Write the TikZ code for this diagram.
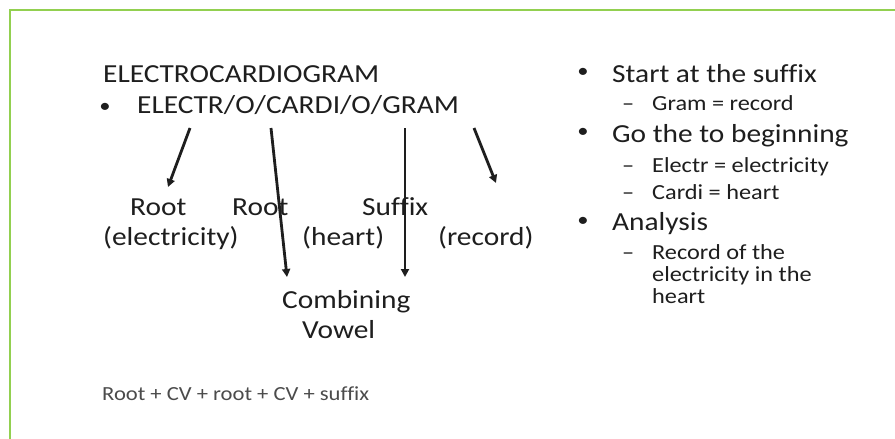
\documentclass[tikz,border=0pt]{standalone}
\usepackage{fontspec}
\setmainfont{Carlito}[FakeStretch=1.13,Ligatures=NoCommon]
\usetikzlibrary{arrows.meta}
\definecolor{frame}{HTML}{92D050}
\definecolor{ink}{HTML}{1E1E1E}
\begin{document}
\begin{tikzpicture}[x=1pt,y=-1pt,
  big/.style={inner sep=0pt,anchor=base west,text=ink,font=\fontsize{26}{30}\selectfont},
  sub/.style={inner sep=0pt,anchor=base west,text=ink,font=\fontsize{21.5}{22}\selectfont},
  small/.style={inner sep=0pt,anchor=base west,text=ink!80,font=\fontsize{20}{22}\selectfont},
  dot/.style={inner sep=0pt,anchor=center,text=ink,font=\fontsize{20}{22}\selectfont},
  arr/.style={line width=2.8pt,draw=ink,-{Triangle[length=8pt,width=8pt]}}]
\useasboundingbox[fill=white] (0,0) rectangle (895,439);
\draw[frame,line width=2.2pt] (10,439) -- (10,10) -- (895,10);
% left column
\node[big] (title) at (103,82) {ELECTROCARDIOGRAM};
\node[dot] (b0) at (105,108) {•};
\node[big] (word) at (137,113) {ELECTR/O/CARDI/O/GRAM};
\node[big] (root1) at (130,215) {Root};
\node[big] (root2) at (232,215) {Root};
\node[big] (suffix) at (362,215) {Suffix};
\node[big] (elec) at (103,245) {(electricity)};
\node[big] (heart) at (302,245) {(heart)};
\node[big] (record) at (438,245) {(record)};
\node[big] (comb) at (282,308) {Combining};
\node[big] (vowel) at (302,338) {Vowel};
\node[small] (formula) at (102,400) {Root + CV + root + CV + suffix};
\coordinate (s1) at (190,128); \coordinate (e1) at (168,187);
\coordinate (s2) at (271,128); \coordinate (e2) at (287,277);
\coordinate (s3) at (405,128); \coordinate (e3) at (405,277);
\coordinate (s4) at (474,128); \coordinate (e4) at (496,183);
\draw[arr] (s1) -- (e1);
\draw[arr] (s2) -- (e2);
\draw[arr] (s3) -- (e3);
\draw[arr] (s4) -- (e4);
% right column
\node[dot] (rb1) at (583,73) {•};
\node[big] (r1) at (612,82) {Start at the suffix};
\node[sub] (rd1) at (622,110) {–};
\node[sub] (r1a) at (652,110) {Gram = record};
\node[dot] (rb2) at (583,133) {•};
\node[big] (r2) at (612,142) {Go the to beginning};
\node[sub] (rd2) at (622,172) {–};
\node[sub] (r2a) at (652,172) {Electr = electricity};
\node[sub] (rd3) at (622,199) {–};
\node[sub] (r2b) at (652,199) {Cardi = heart};
\node[dot] (rb3) at (583,222) {•};
\node[big] (r3) at (612,230) {Analysis};
\node[sub] (rd4) at (622,259) {–};
\node[sub] (r3a) at (652,259) {Record of the};
\node[sub] (r3b) at (652,281) {electricity in the};
\node[sub] (r3c) at (652,303) {heart};
\end{tikzpicture}
\end{document}
